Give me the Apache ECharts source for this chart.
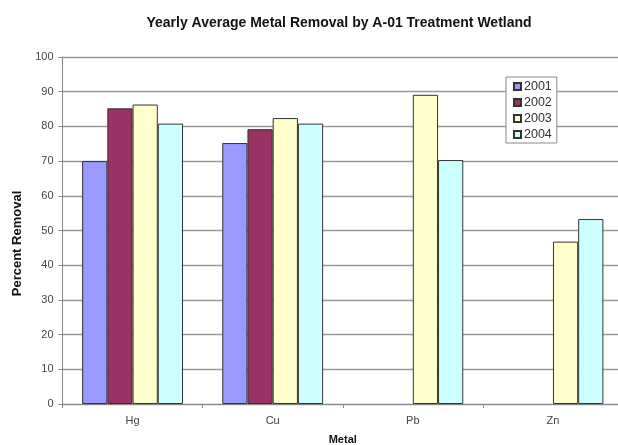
<!DOCTYPE html>
<html><head><meta charset="utf-8">
<script src="https://cdn.jsdelivr.net/npm/echarts@6/dist/echarts.min.js"></script>
<style>html,body{margin:0;padding:0;background:#fff}#c{width:618px;height:445px}</style>
</head><body><div id="c"></div>
<script>
const categories = ['Hg', 'Cu', 'Pb', 'Zn'];
const years = ['2001', '2002', '2003', '2004'];
const v2001 = [70, 75.2, null, null];
const v2002 = [85.2, 79.2, null, null];
const v2003 = [86.3, 82.4, 89.1, 46.8];
const v2004 = [80.8, 80.8, 70.3, 53.3];
const yTicks = [0, 100, 10];
const colors = ['#9999FF', '#993366', '#FFFFCC', '#CCFFFF'];

const seriesValues = [v2001, v2002, v2003, v2004];
const FONT = 'Liberation Sans, Arial, sans-serif';
const chart = echarts.init(document.getElementById('c'), null, {renderer: 'canvas'});
chart.setOption({
  animation: false,
  backgroundColor: '#fff',
  title: {
    text: 'Yearly Average Metal Removal by A-01 Treatment Wetland',
    left: 334, textAlign: 'center', top: 11,
    textStyle: {fontFamily: FONT, fontWeight: 'bold', fontSize: 14, color: '#111'}
  },
  legend: {
    orient: 'vertical', left: 506, top: 77, width: 50,
    padding: [3, 5, 2, 7], itemGap: 3, itemWidth: 7, itemHeight: 7,
    backgroundColor: '#fff', borderColor: '#888', borderWidth: 1,
    icon: 'rect',
    textStyle: {fontFamily: FONT, fontSize: 12.5, lineHeight: 12, color: '#333', padding: [0, 0, 0, -2]},
    data: years
  },
  grid: {left: 62.5, right: -5, top: 57, bottom: 41, containLabel: false, outerBoundsMode: 'none'},
  xAxis: {
    type: 'category', data: categories,
    name: 'Metal', nameLocation: 'middle', nameGap: 30,
    nameTextStyle: {fontFamily: FONT, fontWeight: 'bold', fontSize: 11, color: '#111'},
    axisLine: {lineStyle: {color: '#888', width: 1}},
    axisTick: {show: true, inside: false, length: 4, alignWithLabel: false, lineStyle: {color: '#888'}},
    axisLabel: {fontFamily: FONT, fontSize: 11, color: '#444', margin: 11}
  },
  yAxis: {
    type: 'value', min: yTicks[0], max: yTicks[1], interval: yTicks[2],
    name: 'Percent Removal', nameLocation: 'middle', nameGap: 39, nameRotate: 90,
    nameTextStyle: {fontFamily: FONT, fontWeight: 'bold', fontSize: 13, color: '#111', padding: [0, 26, 0, 0]},
    axisLine: {show: true, lineStyle: {color: '#888', width: 1}},
    axisTick: {show: true, inside: false, length: 4, lineStyle: {color: '#888'}},
    axisLabel: {fontFamily: FONT, fontSize: 11, color: '#444', margin: 9},
    splitLine: {show: true, lineStyle: {color: '#999', width: 1.3}}
  },
  series: years.map((y, i) => ({
    name: y, type: 'bar', data: seriesValues[i],
    barGap: '0%', barCategoryGap: '28%',
    itemStyle: {color: colors[i], borderColor: '#333', borderWidth: 1}
  }))
});
</script></body></html>
